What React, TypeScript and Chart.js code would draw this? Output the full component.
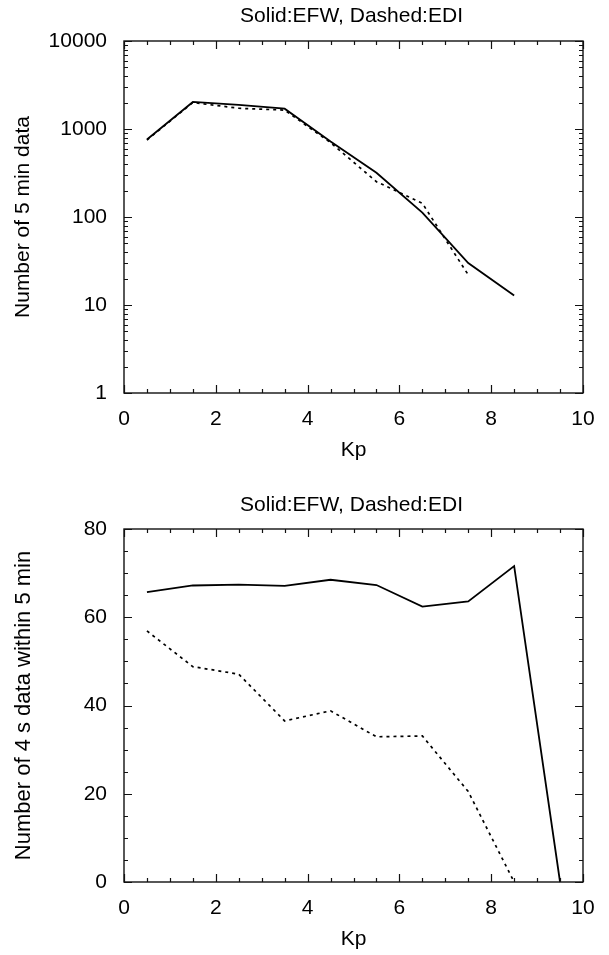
import React, { useEffect, useRef } from "react";
import { Chart, registerables } from "chart.js";

Chart.register(...registerables);

// ---------- data ----------
const kpTopEfw = [0.5, 1.5, 2.5, 3.5, 4.5, 5.5, 6.5, 7.5, 8.5];
const efwCounts = [760, 2030, 1880, 1700, 720, 318, 112, 30, 12.8];
const kpTopEdi = [0.5, 1.5, 2.5, 3.5, 4.5, 5.5, 6.5, 7.5];
const ediCounts = [750, 2000, 1720, 1640, 700, 252, 143, 22];

const kpBottomEfw = [0.5, 1.5, 2.5, 3.5, 4.5, 5.5, 6.5, 7.5, 8.5, 9.5];
const efwPerInterval = [65.7, 67.2, 67.4, 67.1, 68.5, 67.3, 62.4, 63.6, 71.6, 0];
const kpBottomEdi = [0.5, 1.5, 2.5, 3.5, 4.5, 5.5, 6.5, 7.5, 8.5];
const ediPerInterval = [56.9, 48.8, 47.1, 36.5, 38.8, 32.9, 33.1, 20.5, 0];

const xTickValues = [0, 2, 4, 6, 8, 10];
const logTickValues = [1, 10, 100, 1000, 10000];
const linTickValues = [0, 20, 40, 60, 80];

const titleText = "Solid:EFW, Dashed:EDI";
const xLabel = "Kp";
const yLabelTop = "Number of 5 min data";
const yLabelBottom = "Number of 4 s data within 5 min";

const FONT = "'Liberation Sans', Arial, Helvetica, sans-serif";

// ---------- frame / inward ticks / title plugin ----------
const framePlugin = {
  id: "frame",
  afterDatasetsDraw(chart: any, _args: any, opts: any) {
    const { ctx, chartArea } = chart;
    const { left, right, top, bottom } = chartArea;
    const xs = chart.scales.x;
    const ys = chart.scales.y;
    ctx.save();
    ctx.strokeStyle = "#111";
    ctx.lineWidth = 1.4;
    ctx.strokeRect(left, top, right - left, bottom - top);
    ctx.beginPath();
    // x ticks
    const xStep = opts.xMinor;
    for (let v = xs.min; v <= xs.max + 1e-9; v += xStep) {
      const px = Math.round(xs.getPixelForValue(v)) + 0.5;
      const major = Math.abs(v / opts.xMajor - Math.round(v / opts.xMajor)) < 1e-6;
      const len = major ? 8 : 4;
      ctx.moveTo(px, bottom);
      ctx.lineTo(px, bottom - len);
      ctx.moveTo(px, top);
      ctx.lineTo(px, top + len);
    }
    // y ticks
    const yVals: { v: number; major: boolean }[] = [];
    if (opts.log) {
      const k0 = Math.round(Math.log10(ys.min));
      const k1 = Math.round(Math.log10(ys.max));
      for (let k = k0; k < k1; k++) {
        for (let m = 1; m <= 9; m++) yVals.push({ v: m * Math.pow(10, k), major: m === 1 });
      }
      yVals.push({ v: ys.max, major: true });
    } else {
      for (let v = ys.min; v <= ys.max + 1e-9; v += opts.yMinor) {
        yVals.push({ v, major: Math.abs(v / opts.yMajor - Math.round(v / opts.yMajor)) < 1e-6 });
      }
    }
    for (const t of yVals) {
      const py = Math.round(ys.getPixelForValue(t.v)) + 0.5;
      const len = t.major ? 8 : 4;
      ctx.moveTo(left, py);
      ctx.lineTo(left + len, py);
      ctx.moveTo(right, py);
      ctx.lineTo(right - len, py);
    }
    ctx.lineWidth = 1.2;
    ctx.stroke();
    // title
    ctx.fillStyle = "#000";
    ctx.font = `21px ${FONT}`;
    ctx.textAlign = "center";
    ctx.textBaseline = "middle";
    ctx.fillText(opts.title, (left + right) / 2 - 2, opts.titleY);
    ctx.restore();
  },
};

function makeConfig(opts: {
  log: boolean;
  datasets: any[];
  padTop: number;
  xAxisHeight: number;
  titleY: number;
  yLabel: string;
  yLabelSize: number;
  kpPad: number;
}) {
  return {
    type: "line",
    data: { datasets: opts.datasets },
    plugins: [framePlugin],
    options: {
      responsive: false,
      animation: false,
      events: [],
      layout: { padding: { top: opts.padTop, right: 26, bottom: 0, left: 0 } },
      elements: { point: { radius: 0 }, line: { tension: 0 } },
      plugins: {
        legend: { display: false },
        tooltip: { enabled: false },
        title: { display: false },
        frame: {
          log: opts.log,
          xMinor: 0.5,
          xMajor: 2,
          yMinor: 5,
          yMajor: 20,
          title: titleText,
          titleY: opts.titleY,
        },
      },
      scales: {
        x: {
          type: "linear",
          min: 0,
          max: 10,
          grid: { display: false, drawTicks: false },
          border: { display: false },
          afterBuildTicks: (s: any) => {
            s.ticks = xTickValues.map((v) => ({ value: v }));
          },
          afterFit: (s: any) => {
            s.height = opts.xAxisHeight;
          },
          ticks: {
            padding: 14,
            autoSkip: false,
            maxRotation: 0,
            color: "#000",
            font: { family: FONT, size: 21 },
            callback: (v: any) => String(v),
          },
          title: {
            display: true,
            text: xLabel,
            color: "#000",
            font: { family: FONT, size: 21 },
            padding: { top: 0, bottom: opts.kpPad },
          },
        },
        y: {
          type: opts.log ? "logarithmic" : "linear",
          min: opts.log ? 1 : 0,
          max: opts.log ? 10000 : 80,
          grid: { display: false, drawTicks: false },
          border: { display: false },
          afterBuildTicks: (s: any) => {
            s.ticks = (opts.log ? logTickValues : linTickValues).map((v) => ({ value: v }));
          },
          afterFit: (s: any) => {
            s.width = 124;
          },
          ticks: {
            padding: 17,
            autoSkip: false,
            color: "#000",
            font: { family: FONT, size: 21 },
            callback: (v: any) => String(v),
          },
          title: {
            display: true,
            text: opts.yLabel,
            color: "#000",
            font: { family: FONT, size: opts.yLabelSize },
            padding: { top: 11, bottom: 0 },
          },
        },
      },
    },
  } as any;
}

function toPoints(xs: number[], ys: number[]) {
  return xs.map((x, i) => ({ x, y: ys[i] }));
}

function ChartCanvas({ config, width, height, top }: any) {
  const ref = useRef<HTMLCanvasElement | null>(null);
  useEffect(() => {
    if (!ref.current) return;
    const chart = new Chart(ref.current, config);
    return () => chart.destroy();
  }, []);
  return (
    <canvas
      ref={ref}
      width={width}
      height={height}
      style={{ position: "absolute", left: 0, top, width, height, display: "block" }}
    />
  );
}

export default function App() {
  const solid = { borderColor: "#000", borderWidth: 1.8, fill: false, clip: false };
  const dashed = { borderColor: "#000", borderWidth: 1.7, borderDash: [3, 4], fill: false, clip: false };

  const topConfig = makeConfig({
    log: true,
    datasets: [
      { label: "EFW", data: toPoints(kpTopEfw, efwCounts), ...solid },
      { label: "EDI", data: toPoints(kpTopEdi, ediCounts), ...dashed },
    ],
    padTop: 41,
    xAxisHeight: 77,
    titleY: 16,
    yLabel: yLabelTop,
    yLabelSize: 21,
    kpPad: 7,
  });

  const bottomConfig = makeConfig({
    log: false,
    datasets: [
      { label: "EFW", data: toPoints(kpBottomEfw, efwPerInterval), ...solid },
      { label: "EDI", data: toPoints(kpBottomEdi, ediPerInterval), ...dashed },
    ],
    padTop: 59,
    xAxisHeight: 73,
    titleY: 35,
    yLabel: yLabelBottom,
    yLabelSize: 22,
    kpPad: 3,
  });

  return (
    <div
      style={{
        position: "absolute",
        left: 0,
        top: 0,
        width: 609,
        height: 955,
        background: "#fff",
        overflow: "hidden",
      }}
    >
      <ChartCanvas config={topConfig} width={609} height={470} top={0} />
      <ChartCanvas config={bottomConfig} width={609} height={485} top={470} />
    </div>
  );
}
